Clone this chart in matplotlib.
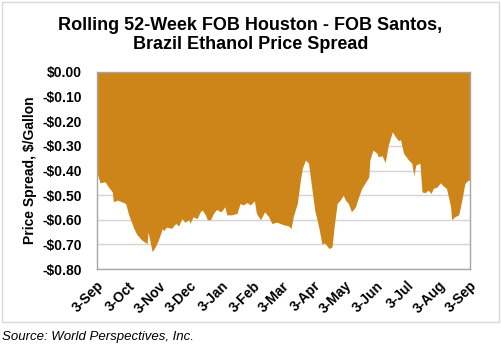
import matplotlib.pyplot as plt
import pandas as pd

# days after 3-Sep and weekly spread, $/gallon
days = [0, 3, 8, 11, 15, 16, 20, 24, 28, 31, 36, 39, 44, 49, 50, 52, 54, 57, 60, 64,
        65, 68, 73, 77, 80, 83, 86, 90, 91, 94, 98, 101, 103, 106, 108, 111, 114, 117,
        121, 123, 125, 127, 132, 137, 140, 143, 147, 150, 154, 156, 160, 164, 168, 171,
        176, 181, 184, 187, 190, 192, 196, 199, 201, 204, 207, 210, 213, 217, 220, 223,
        227, 230, 232, 235, 238, 241, 243, 246, 249, 253, 256, 259, 262, 266, 267, 270,
        274, 275, 279, 282, 285, 289, 292, 295, 297, 300, 305, 308, 310, 312, 316, 318,
        321, 324, 327, 329, 333, 336, 339, 342, 346, 347, 350, 354, 357, 360, 363, 365]
spread = [-0.41, -0.45, -0.446, -0.466, -0.487, -0.527, -0.52, -0.527, -0.534, -0.58,
          -0.635, -0.66, -0.683, -0.697, -0.65, -0.69, -0.73, -0.71, -0.683, -0.635,
          -0.645, -0.63, -0.635, -0.615, -0.625, -0.595, -0.61, -0.60, -0.615, -0.588,
          -0.595, -0.568, -0.56, -0.58, -0.60, -0.60, -0.574, -0.558, -0.568, -0.56,
          -0.547, -0.58, -0.58, -0.574, -0.534, -0.54, -0.53, -0.54, -0.523, -0.574,
          -0.60, -0.568, -0.588, -0.615, -0.61, -0.618, -0.622, -0.624, -0.635, -0.588,
          -0.534, -0.44, -0.39, -0.358, -0.37, -0.466, -0.56, -0.63, -0.697, -0.695,
          -0.717, -0.71, -0.63, -0.534, -0.52, -0.50, -0.52, -0.534, -0.568, -0.547,
          -0.507, -0.473, -0.453, -0.426, -0.358, -0.317, -0.33, -0.344, -0.34, -0.368,
          -0.297, -0.243, -0.263, -0.279, -0.275, -0.33, -0.358, -0.37, -0.42, -0.378,
          -0.37, -0.487, -0.49, -0.48, -0.493, -0.473, -0.466, -0.45, -0.463, -0.473,
          -0.547, -0.60, -0.588, -0.58, -0.52, -0.453, -0.44, -0.44]

start = pd.Timestamp('2013-09-03')
dates = start + pd.to_timedelta(days, unit='D')
month_ticks = pd.date_range(start, periods=13, freq=pd.DateOffset(months=1))
y_ticks = [0.0, -0.1, -0.2, -0.3, -0.4, -0.5, -0.6, -0.7, -0.8]

plt.rcParams['font.family'] = ['Liberation Sans', 'DejaVu Sans']

fig = plt.figure(figsize=(5.01, 3.49), dpi=100)
ax = fig.add_axes([0.1936, 0.2292, 0.7445, 0.5645])

ax.fill_between(dates, spread, 0, color='#CD8519', linewidth=0, zorder=3)

ax.set_xlim(month_ticks[0], month_ticks[-1])
ax.set_ylim(-0.8, 0.0)
ax.set_yticks(y_ticks)
ax.set_yticklabels([('-' if v < 0 else '') + '$%.2f' % abs(v) for v in y_ticks],
                   fontsize=10, fontweight='bold')
ax.yaxis.grid(True, color='#D4D4D4', linewidth=1, zorder=1)
ax.set_axisbelow(True)

ax.set_xticks(month_ticks)
ax.set_xticklabels(['%d-%s' % (d.day, d.strftime('%b')) for d in month_ticks],
                   rotation=45, ha='right', rotation_mode='anchor',
                   fontsize=10, fontweight='bold')
ax.tick_params(axis='x', bottom=False, top=True, labelbottom=True, labeltop=False,
               direction='in', length=4, color='#DDDDDD', pad=7)
ax.tick_params(axis='y', length=0, pad=11)

for s in ax.spines.values():
    s.set_color('#A6A6A6')
    s.set_linewidth(1)
    s.set_zorder(4)

ax.set_ylabel('Price Spread, $/Gallon', fontsize=10, fontweight='bold', labelpad=4)

fig.text(0.5, 0.9, 'Rolling 52-Week FOB Houston - FOB Santos,\nBrazil Ethanol Price Spread',
         ha='center', va='center', fontsize=13, fontweight='bold', linespacing=1.2)

# light frame around the chart, source line underneath
fig.add_artist(plt.Rectangle((0.004, 0.077), 0.992, 0.917, transform=fig.transFigure,
                             fill=False, edgecolor='#D9D9D9', linewidth=1))
fig.text(0.004, 0.034, 'Source: World Perspectives, Inc.', ha='left', va='center',
         fontsize=9.5, fontstyle='italic')

fig.savefig('out.png', dpi=100)
